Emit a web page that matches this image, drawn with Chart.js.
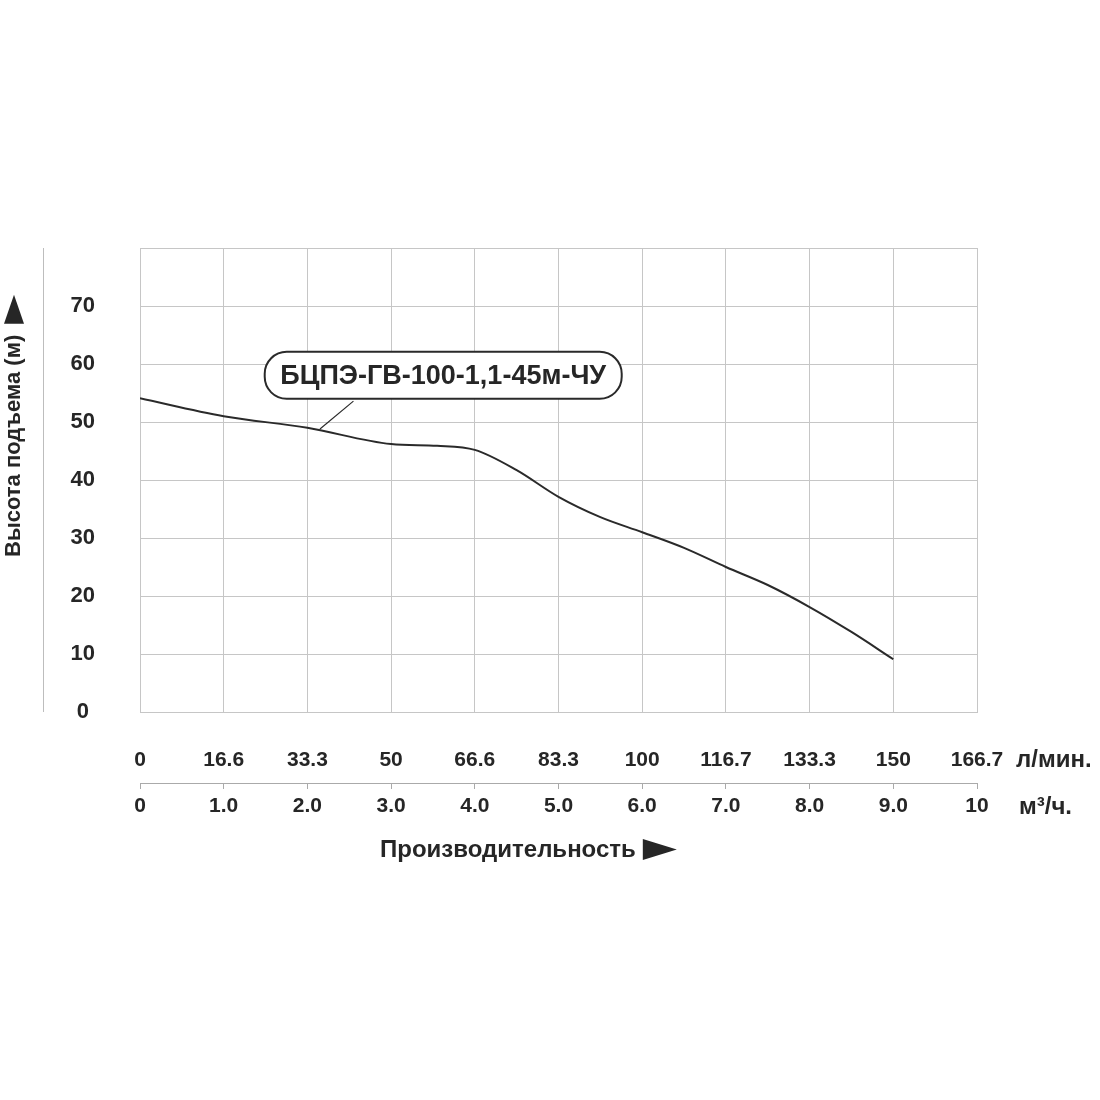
<!DOCTYPE html>
<html>
<head>
<meta charset="utf-8">
<script src="https://cdn.jsdelivr.net/npm/chart.js@4.4.1/dist/chart.umd.min.js"></script>
<style>
  body { margin: 0; background: #fff; }
  canvas { display: block; }
</style>
</head>
<body>
<canvas id="grafico" width="1100" height="1100"></canvas>
<script>
// производительность, м3/ч и напор, м
const flowM3h = [0, 1, 2, 3, 3.55, 4, 4.5, 5, 5.5, 6, 6.5, 7, 7.5, 8, 8.5, 9];
const headM = [54.1, 51.0, 49.0, 46.2, 45.9, 45.2, 41.7, 37.1, 33.6, 31.0, 28.3, 25.0, 21.9, 18.1, 13.8, 9.1];

const lminLabels = ['0', '16.6', '33.3', '50', '66.6', '83.3', '100', '116.7', '133.3', '150', '166.7'];
const m3hLabels = ['0', '1.0', '2.0', '3.0', '4.0', '5.0', '6.0', '7.0', '8.0', '9.0', '10'];
const headLabels = ['0', '10', '20', '30', '40', '50', '60', '70'];

const modelName = 'БЦПЭ-ГВ-100-1,1-45м-ЧУ';
const yTitle = 'Высота подъема (м)';
const xTitle = 'Производительность';
const lminUnit = 'л/мин.';
const m3hUnit = 'м³/ч.';

const FONT = '"Liberation Sans", Arial, sans-serif';
const gridColor = '#c6c6c6';
const textColor = '#262626';

function triangle(ctx, pts) {
  ctx.beginPath();
  ctx.moveTo(pts[0][0], pts[0][1]);
  ctx.lineTo(pts[1][0], pts[1][1]);
  ctx.lineTo(pts[2][0], pts[2][1]);
  ctx.closePath();
  ctx.fill();
}

const podpisi = {
  id: 'podpisi',
  afterDraw(chart) {
    const ctx = chart.ctx;
    const area = chart.chartArea;
    const x = chart.scales.x;
    const y = chart.scales.y;
    ctx.save();

    // вертикальная линия слева
    ctx.strokeStyle = '#bdbdbd';
    ctx.lineWidth = 1;
    ctx.beginPath();
    ctx.moveTo(43.5, area.top);
    ctx.lineTo(43.5, area.bottom);
    ctx.stroke();

    // подпись оси Y
    ctx.fillStyle = textColor;
    ctx.save();
    ctx.translate(14, 557);
    ctx.rotate(-Math.PI / 2);
    ctx.font = 'bold 22px ' + FONT;
    ctx.textAlign = 'left';
    ctx.textBaseline = 'middle';
    ctx.fillText(yTitle, 0, 0);
    const w = ctx.measureText(yTitle).width;
    triangle(ctx, [[w + 11, -10], [w + 11, 10], [w + 40, 0]]);
    ctx.restore();

    // подпись оси X
    ctx.font = 'bold 24px ' + FONT;
    ctx.textAlign = 'left';
    ctx.textBaseline = 'middle';
    ctx.fillText(xTitle, 380, 850);
    const wx = ctx.measureText(xTitle).width;
    triangle(ctx, [[380 + wx + 7, 839], [380 + wx + 7, 860], [380 + wx + 41, 849.5]]);

    // единицы
    ctx.font = 'bold 24px ' + FONT;
    ctx.fillText(lminUnit, area.right + 39, 760);
    ctx.fillText(m3hUnit, area.right + 42, 807);

    // выноска с названием насоса
    const bx = x.getPixelForValue(1.49);
    const by = y.getPixelForValue(62.1);
    const bw = 357, bh = 47, r = 22;
    ctx.strokeStyle = '#2a2a2a';
    ctx.lineWidth = 1.2;
    ctx.beginPath();
    ctx.moveTo(x.getPixelForValue(2.55), y.getPixelForValue(53.6));
    ctx.lineTo(x.getPixelForValue(2.15), y.getPixelForValue(48.8));
    ctx.stroke();
    ctx.lineWidth = 2;
    ctx.fillStyle = '#fff';
    ctx.beginPath();
    ctx.roundRect(bx, by, bw, bh, r);
    ctx.fill();
    ctx.stroke();
    ctx.fillStyle = textColor;
    ctx.font = 'bold 27px ' + FONT;
    ctx.textAlign = 'center';
    ctx.fillText(modelName, bx + bw / 2, by + bh / 2 + 1);

    ctx.restore();
  }
};

new Chart(document.getElementById('grafico'), {
  type: 'line',
  data: {
    datasets: [{
      data: flowM3h.map((v, i) => ({ x: v, y: headM[i] })),
      borderColor: '#2a2a2a',
      borderWidth: 2,
      pointRadius: 0,
      cubicInterpolationMode: 'monotone',
      xAxisID: 'x',
      yAxisID: 'y'
    }]
  },
  options: {
    responsive: false,
    animation: false,
    devicePixelRatio: 1,
    layout: { padding: { left: 40, right: 123, top: 248, bottom: 277 } },
    plugins: { legend: { display: false }, tooltip: { enabled: false } },
    scales: {
      x: {
        type: 'linear',
        position: 'bottom',
        min: 0, max: 10,
        weight: 0,
        afterFit: s => { s.height = 71; },
        grid: { color: gridColor, drawTicks: false },
        border: { color: gridColor },
        ticks: {
          stepSize: 1,
          padding: 36,
          maxRotation: 0,
          color: textColor,
          font: { family: FONT, size: 21, weight: 'bold' },
          callback: (v, i) => lminLabels[i]
        }
      },
      x2: {
        type: 'linear',
        position: 'bottom',
        min: 0, max: 10,
        weight: 1,
        afterFit: s => { s.height = 40; },
        grid: { drawOnChartArea: false, color: '#aaa', tickLength: 6 },
        border: { color: '#aaa' },
        ticks: {
          stepSize: 1,
          padding: 5,
          maxRotation: 0,
          color: textColor,
          font: { family: FONT, size: 21, weight: 'bold' },
          callback: (v, i) => m3hLabels[i]
        }
      },
      y: {
        min: 0, max: 80,
        afterFit: s => { s.width = 100; },
        grid: { color: gridColor, drawTicks: false },
        border: { color: gridColor },
        ticks: {
          stepSize: 10,
          padding: 45,
          crossAlign: 'center',
          color: textColor,
          font: { family: FONT, size: 22, weight: 'bold' },
          callback: (v, i) => headLabels[i] ?? ''
        }
      }
    }
  },
  plugins: [podpisi]
});
</script>
</body>
</html>
